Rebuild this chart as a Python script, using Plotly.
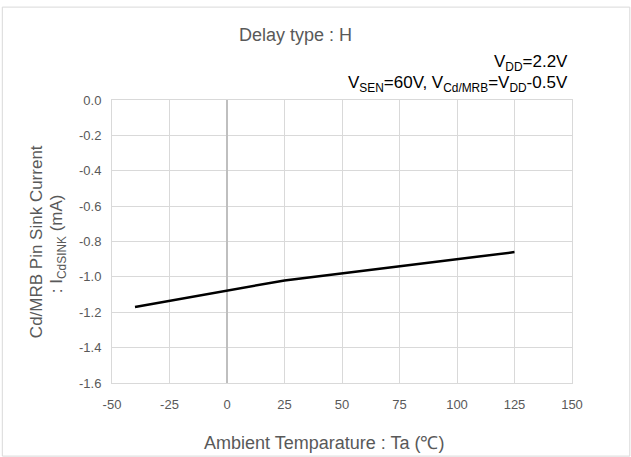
import plotly.graph_objects as go

# Sink current vs ambient temperature
temperature = [-40, 25, 125]
sink_current = [-1.17, -1.02, -0.86]

x_ticks = [-50, -25, 0, 25, 50, 75, 100, 125, 150]
y_ticks = [0.0, -0.2, -0.4, -0.6, -0.8, -1.0, -1.2, -1.4, -1.6]

W, H = 631, 457
L, R, T, B = 111.7, 59.3, 100, 73.7
pw, ph = W - L - R, H - T - B


def px_x(px):
    return (px - L) / pw


def px_y(py):
    return (H - B - py) / ph


font_main = "Liberation Sans, Arial, sans-serif"
grey = "#595959"

fig = go.Figure()
fig.add_trace(go.Scatter(
    x=temperature, y=sink_current, mode="lines",
    line=dict(color="black", width=2.5), showlegend=False,
))

fig.update_layout(
    width=W, height=H, autosize=False,
    margin=dict(l=L, r=R, t=T, b=B, pad=0),
    paper_bgcolor="white", plot_bgcolor="white",
    font=dict(family=font_main, color=grey),
    xaxis=dict(
        range=[-50, 150], tickvals=x_ticks, ticktext=[str(v) for v in x_ticks],
        showgrid=True, gridcolor="#d9d9d9", gridwidth=1,
        zeroline=True, zerolinecolor="#bfbfbf", zerolinewidth=1.5,
        showline=True, linecolor="#d9d9d9", mirror=True,
        ticks="outside", ticklen=9, tickcolor="rgba(0,0,0,0)",
        tickfont=dict(size=13, color=grey),
    ),
    yaxis=dict(
        range=[-1.6, 0.0], tickvals=y_ticks, ticktext=[f"{v:.1f}" for v in y_ticks],
        showgrid=True, gridcolor="#d9d9d9", gridwidth=1, zeroline=False,
        showline=True, linecolor="#d9d9d9", mirror=True,
        ticks="outside", ticklen=7, tickcolor="rgba(0,0,0,0)",
        tickfont=dict(size=13, color=grey),
    ),
    annotations=[
        dict(text="Delay type : H", xref="paper", yref="paper",
             x=px_x(295), y=px_y(35), xanchor="center", yanchor="middle",
             showarrow=False, font=dict(size=18, color=grey)),
        dict(text="V<sub>DD</sub>=2.2V", xref="paper", yref="paper",
             x=px_x(570), y=px_y(63), xanchor="right", yanchor="middle",
             showarrow=False, font=dict(size=17, color="black")),
        dict(text="V<sub>SEN</sub>=60V, V<sub>Cd/MRB</sub>=V<sub>DD</sub>-0.5V",
             xref="paper", yref="paper",
             x=px_x(570), y=px_y(84), xanchor="right", yanchor="middle",
             showarrow=False, font=dict(size=17, color="black")),
        dict(text="Ambient Temparature : Ta (℃)", xref="paper", yref="paper",
             x=px_x(324), y=px_y(443), xanchor="center", yanchor="middle",
             showarrow=False, font=dict(size=18, color=grey)),
        dict(text="Cd/MRB Pin Sink Current", xref="paper", yref="paper",
             x=px_x(37), y=px_y(242), xanchor="center", yanchor="middle",
             textangle=-90, showarrow=False, font=dict(size=17, color=grey)),
        dict(text=": I<sub>CdSINK</sub> (mA)", xref="paper", yref="paper",
             x=px_x(58), y=px_y(244), xanchor="center", yanchor="middle",
             textangle=-90, showarrow=False, font=dict(size=17, color=grey)),
    ],
    shapes=[
        dict(type="rect", xref="paper", yref="paper", layer="below",
             x0=px_x(2), x1=px_x(629.5), y0=px_y(456.5), y1=px_y(7),
             line=dict(color="#d9d9d9", width=1), fillcolor="rgba(0,0,0,0)"),
    ],
)

fig.write_html("out.html")
